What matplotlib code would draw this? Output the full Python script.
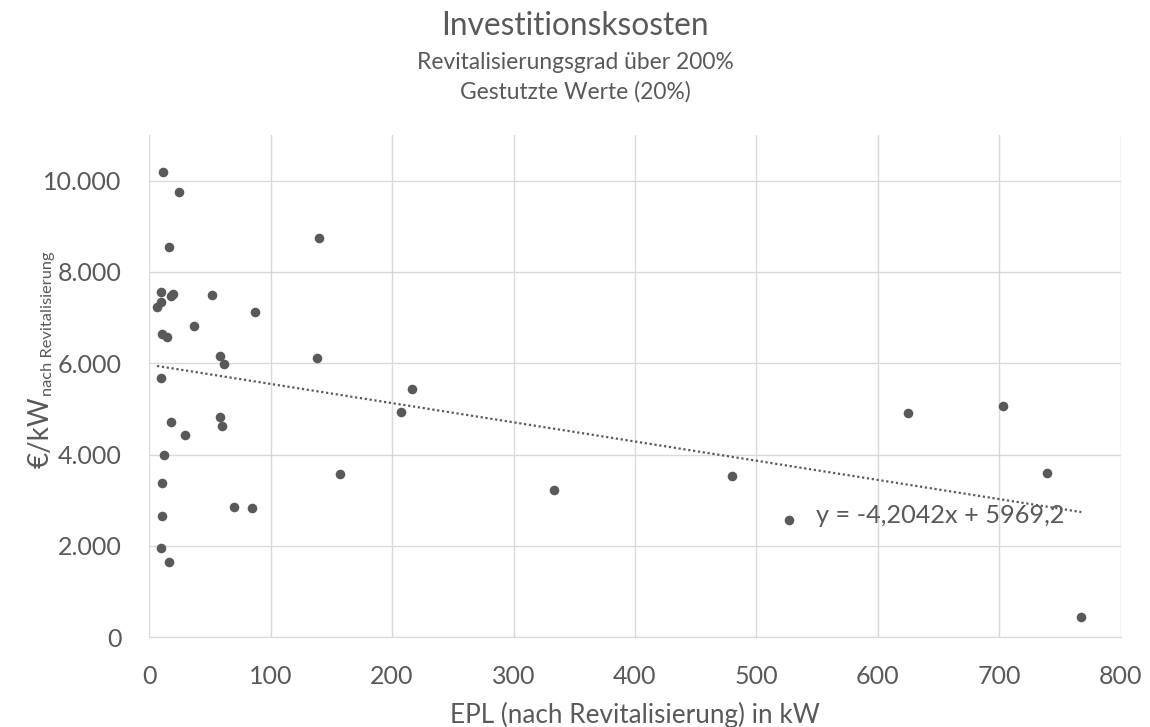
import matplotlib.pyplot as plt
import numpy as np

plt.rcParams['font.family'] = ['Lato', 'DejaVu Sans']

# EPL nach Revitalisierung (kW) and specific investment cost (EUR/kW)
epl_kw = [11.3, 24.3, 16.3, 9.9, 17.5, 19.5, 9.9, 6.4, 51.4, 87.0,
          37.0, 10.8, 14.9, 58.3, 61.6, 9.9, 17.7, 58.6, 59.7, 29.8,
          12.4, 10.8, 69.6, 84.8, 10.5, 9.7, 16.3,
          139.8, 137.9, 216.5, 207.7, 156.8,
          333.5, 479.6, 526.8, 624.8, 702.7, 739.5, 767.6]
cost_eur_kw = [10183, 9751, 8538, 7551, 7480, 7522, 7346, 7229, 7500, 7118,
               6820, 6637, 6571, 6155, 5987, 5673, 4708, 4817, 4627, 4430,
               3991, 3385, 2858, 2829, 2646, 1959, 1652,
               8746, 6124, 5430, 4926, 3583,
               3228, 3529, 2559, 4904, 5066, 3588, 441]

trend_slope = -4.2042
trend_icpt = 5969.2
x_ticks = [0, 100, 200, 300, 400, 500, 600, 700, 800]
y_ticks = [0, 2000, 4000, 6000, 8000, 10000]

grey = '#595959'
grid = '#d9d9d9'

fig = plt.figure(figsize=(11.5, 7.27), dpi=100)
ax = fig.add_axes([0.1298, 0.1234, 0.8447, 0.6909])

ax.scatter(epl_kw, cost_eur_kw, s=48, color=grey, zorder=3, linewidths=0)

xs = np.array([min(epl_kw), max(epl_kw)])
ax.plot(xs, trend_slope * xs + trend_icpt, color=grey, lw=1.6,
        linestyle=(0, (1, 1.2)), zorder=2)
ax.text(549, 2660, 'y = -4,2042x + 5969,2', fontsize=18.2, color=grey,
        va='center', ha='left', zorder=4)

ax.set_xlim(0, 800)
ax.set_ylim(0, 11000)
ax.set_xticks(x_ticks)
ax.set_yticks(y_ticks)
ax.set_yticklabels(['0' if v == 0 else f'{v:,}'.replace(',', '.') for v in y_ticks])
ax.tick_params(length=0, labelsize=18, labelcolor=grey)
ax.tick_params(axis='y', pad=20)
ax.tick_params(axis='x', pad=20)
ax.grid(True, color=grid, lw=1)
ax.set_axisbelow(True)
for side in ['top', 'right', 'left']:
    ax.spines[side].set_visible(False)
ax.spines['bottom'].set_color(grid)

ax.set_xlabel('EPL (nach Revitalisierung) in kW', fontsize=18.8, color=grey,
              labelpad=10)

# y label: "€/kW" with a smaller subscript, drawn as two rotated texts
ylab = fig.text(0.0355, 1 - 468 / 727, '€/kW', rotation=90, ha='center',
                va='bottom', fontsize=20, color=grey)
fig.canvas.draw()
bb = ylab.get_window_extent().transformed(fig.transFigure.inverted())
fig.text(0.0418, bb.y1 + 0.001, 'nach Revitalisierung', rotation=90,
         ha='center', va='bottom', fontsize=11.8, color=grey)

fig.text(0.5, 0.964, 'Investitionsksosten', ha='center', va='center',
         fontsize=22.8, color=grey)
fig.text(0.5, 0.914, 'Revitalisierungsgrad über 200%', ha='center', va='center',
         fontsize=16.4, color=grey)
fig.text(0.5, 0.874, 'Gestutzte Werte (20%)', ha='center', va='center',
         fontsize=16.4, color=grey)

fig.savefig('out.png', dpi=100, facecolor='white')
